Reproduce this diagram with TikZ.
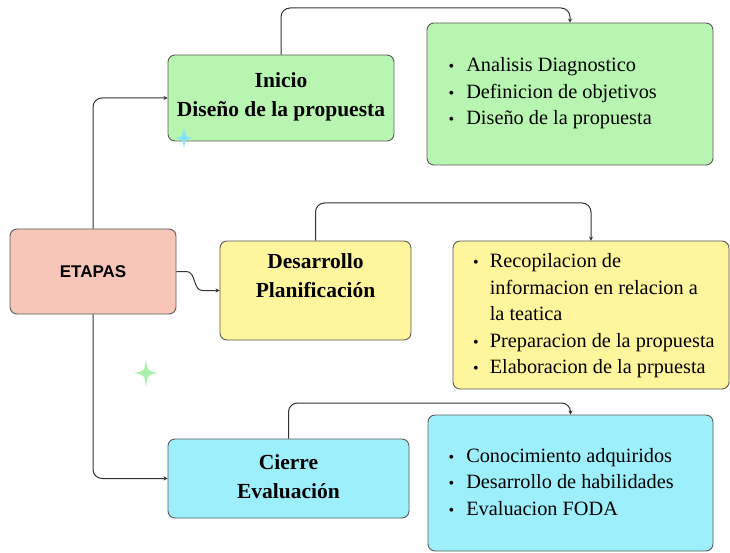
\documentclass[tikz,border=0pt]{standalone}
\usepackage{fontspec}
\setmainfont{Liberation Serif}
\newfontfamily\etfont{Liberation Sans}
\usetikzlibrary{arrows.meta}
\definecolor{cgreen}{HTML}{B8F5B0}
\definecolor{cyellow}{HTML}{FFF59C}
\definecolor{ccyan}{HTML}{9EEFFC}
\definecolor{csalmon}{HTML}{F7C6B8}
\definecolor{cborder}{HTML}{5A5A5A}
\definecolor{cline}{HTML}{333333}
\definecolor{cstarblue}{HTML}{86E0FF}
\definecolor{cstargreen}{HTML}{AAF0AA}
\newcommand\bul{{\fontsize{16}{26.5}\selectfont\textbullet}}
\begin{document}
\begin{tikzpicture}[x=1pt,y=-1pt,
  box/.style={draw=cborder, line width=0.9pt, rounded corners=7pt, inner sep=0pt},
  conn/.style={draw=cline, line width=1pt, rounded corners=9pt, -{Stealth[length=4pt,width=4pt]}},
  titletext/.style={font=\bfseries\fontsize{21.5}{29}\selectfont, align=center, inner sep=0pt},
  listtext/.style={font=\fontsize{20.3}{26.5}\selectfont, anchor=west, inner sep=0pt},
  sparkle/.style={fill=#1, draw=none}
]
\useasboundingbox (0,0) rectangle (730,553);
% boxes
\node[box, fill=csalmon, minimum width=166, minimum height=85] (et) at (93,271.5) {};
\node[font=\etfont\bfseries\fontsize{17}{19}\selectfont, inner sep=0pt] (ett) at (93,271.5) {ETAPAS};
\node[box, fill=cgreen, minimum width=226, minimum height=86] (ini) at (281,98) {};
\node[box, fill=cgreen, minimum width=286, minimum height=142] (l1) at (570,94) {};
\node[box, fill=cyellow, minimum width=191, minimum height=99] (des) at (315.5,290.5) {};
\node[box, fill=cyellow, minimum width=276, minimum height=148] (l2) at (591,315) {};
\node[box, fill=ccyan, minimum width=241, minimum height=79] (cie) at (288.5,478.5) {};
\node[box, fill=ccyan, minimum width=285, minimum height=136] (l3) at (570.5,483) {};
% titles
\node[titletext] (init) at (281,97) {Inicio\\Diseño de la propuesta};
\node[titletext] (dest) at (315.5,275.5) {Desarrollo\\Planificación};
\node[titletext] (ciet) at (288.5,477) {Cierre\\Evaluación};
% lists
\node[listtext] (l1t) at (448.5,93) {\begin{tabular}{@{}c@{\hspace{12pt}}l@{}}
\bul & Analisis Diagnostico\\
\bul & Definicion de objetivos\\
\bul & Diseño de la propuesta
\end{tabular}};
\node[listtext] (l2t) at (473,315.5) {\begin{tabular}{@{}c@{\hspace{11pt}}l@{}}
\bul & Recopilacion de\\
 & informacion en relacion a\\
 & la teatica\\
\bul & Preparacion de la propuesta\\
\bul & Elaboracion de la prpuesta
\end{tabular}};
\node[listtext] (l3t) at (448.5,483.5) {\begin{tabular}{@{}c@{\hspace{12pt}}l@{}}
\bul & Conocimiento adquiridos\\
\bul & Desarrollo de habilidades\\
\bul & Evaluacion FODA
\end{tabular}};
% connectors
\coordinate (k1) at (570,8);
\coordinate (k2) at (591,203);
\coordinate (k3) at (570.5,403);
\draw[conn] (et.north) |- (ini.west);
\draw[conn] (et.south) |- (cie.west);
\draw[conn, rounded corners=0pt] (et.east) -- ++(10,0) to[out=0,in=180] ++(16,19) -- (des.west);
\draw[conn] (ini.north) |- (k1) -- (l1.north);
\draw[conn] (des.north) |- (k2) -- (l2.north);
\draw[conn] (cie.north) |- (k3) -- (l3.north);
% sparkles
\fill[sparkle=cstarblue, shift={(184,138)}, xscale=8.5, yscale=10.5]
  (0,-1) .. controls (0.15,-0.15) .. (1,0) .. controls (0.15,0.15) .. (0,1)
  .. controls (-0.15,0.15) .. (-1,0) .. controls (-0.15,-0.15) .. (0,-1) -- cycle;
\fill[sparkle=cstargreen, shift={(146,373)}, xscale=12, yscale=14]
  (0,-1) .. controls (0.13,-0.13) .. (1,0) .. controls (0.13,0.13) .. (0,1)
  .. controls (-0.13,0.13) .. (-1,0) .. controls (-0.13,-0.13) .. (0,-1) -- cycle;
\end{tikzpicture}
\end{document}
